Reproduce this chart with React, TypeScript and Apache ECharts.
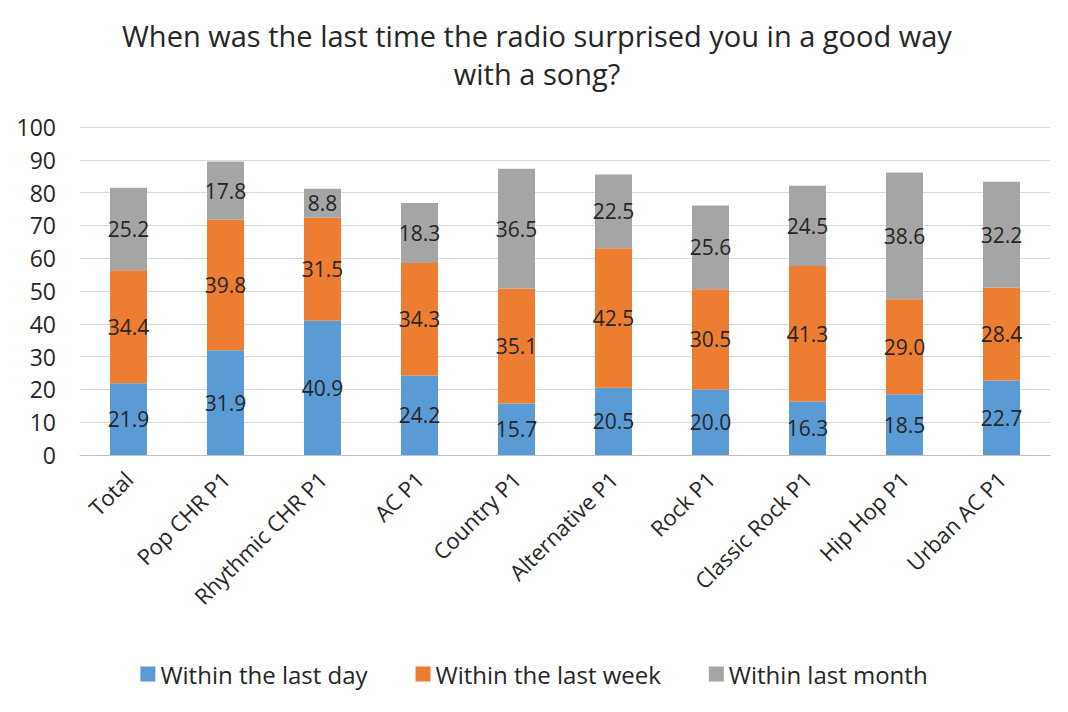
import { useRef, useEffect } from "react";
import * as echarts from "echarts";

const categories = [
  "Total",
  "Pop CHR P1",
  "Rhythmic CHR P1",
  "AC P1",
  "Country P1",
  "Alternative P1",
  "Rock P1",
  "Classic Rock P1",
  "Hip Hop P1",
  "Urban AC P1",
];
const lastDay = [21.9, 31.9, 40.9, 24.2, 15.7, 20.5, 20.0, 16.3, 18.5, 22.7];
const lastWeek = [34.4, 39.8, 31.5, 34.3, 35.1, 42.5, 30.5, 41.3, 29.0, 28.4];
const lastMonth = [25.2, 17.8, 8.8, 18.3, 36.5, 22.5, 25.6, 24.5, 38.6, 32.2];
const seriesNames = ["Within the last day", "Within the last week", "Within last month"];
const colors = ["#5B9BD5", "#ED7D31", "#A5A5A5"];

const FONT = "Open Sans";
const TEXT = "#262626";

export default function App() {
  const chartRef = useRef<HTMLDivElement>(null);

  useEffect(() => {
    if (!chartRef.current) return;
    const chart = echarts.init(chartRef.current, null, { renderer: "svg" });

    const label = {
      show: true,
      position: "inside",
      color: TEXT,
      fontSize: 21,
      fontFamily: FONT,
      formatter: (p: any) => Number(p.value).toFixed(1),
    };

    chart.setOption({
      animation: false,
      backgroundColor: "#ffffff",
      textStyle: { fontFamily: FONT },
      title: {
        text: "When was the last time the radio surprised you in a good way\nwith a song?",
        left: 529,
        textAlign: "center",
        top: 8,
        padding: 0,
        textStyle: {
          fontFamily: FONT,
          fontSize: 29,
          fontWeight: "normal",
          color: TEXT,
          lineHeight: 38,
        },
      },
      legend: {
        top: 649,
        left: "center",
        itemWidth: 15,
        itemHeight: 15,
        itemGap: 48,
        icon: "rect",
        textStyle: { fontFamily: FONT, fontSize: 24, color: TEXT },
        data: seriesNames,
      },
      grid: { left: 72, width: 970, top: 119, height: 328 },
      xAxis: {
        type: "category",
        data: categories,
        axisTick: { show: false },
        axisLine: { lineStyle: { color: "#bfbfbf" } },
        axisLabel: {
          rotate: 45,
          interval: 0,
          fontSize: 22,
          color: TEXT,
          fontFamily: FONT,
          margin: 20,
        },
      },
      yAxis: {
        type: "value",
        min: 0,
        max: 100,
        interval: 10,
        axisLine: { show: false },
        axisTick: { show: false },
        axisLabel: { fontSize: 23, color: TEXT, fontFamily: FONT, margin: 24 },
        splitLine: { lineStyle: { color: "#d9d9d9" } },
      },
      series: [lastDay, lastWeek, lastMonth].map((d, i) => ({
        name: seriesNames[i],
        type: "bar",
        stack: "total",
        data: d,
        barWidth: 37,
        itemStyle: { color: colors[i] },
        label,
      })),
    });

    return () => chart.dispose();
  }, []);

  return <div ref={chartRef} style={{ width: 1052, height: 696 }} />;
}
